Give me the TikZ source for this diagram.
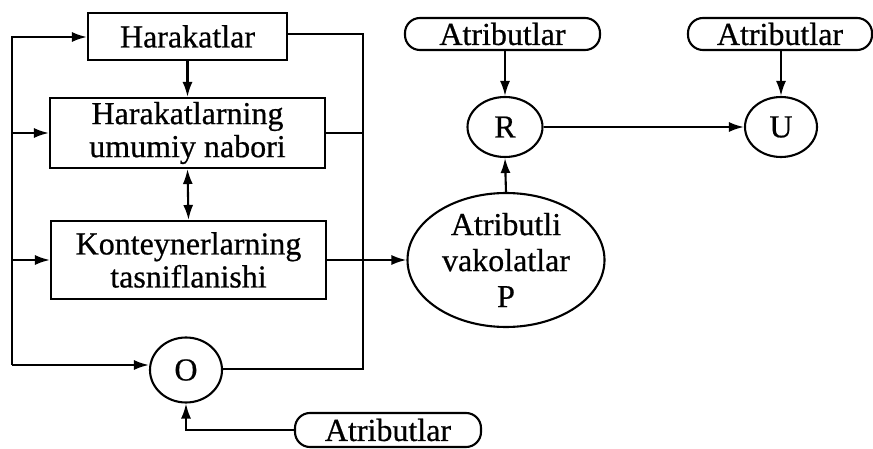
\documentclass[tikz,border=0pt]{standalone}
\usepackage{fontspec}
\setmainfont[FakeBold=0.6]{Liberation Serif}
\usetikzlibrary{shapes.geometric,arrows.meta}
\begin{document}
\begin{tikzpicture}[x=1pt,y=-1pt,
  line width=2.1pt,
  every node/.style={font=\fontsize{32}{33}\selectfont, inner sep=0pt, align=center},
  boxnode/.style={draw, rectangle},
  ovalnode/.style={draw, ellipse},
  pillnode/.style={draw, rectangle, rounded corners=15pt},
  arr/.style={-{Latex[length=15pt,width=10pt]}},
  darr/.style={{Latex[length=15pt,width=10pt]}-{Latex[length=15pt,width=10pt]}}
]
\useasboundingbox (0,0) rectangle (873,449);
% boxes
\node[boxnode, minimum width=199pt, minimum height=47pt] (harak) at (187.5,36.5) {Harakatlar};
\node[boxnode, minimum width=275pt, minimum height=70pt] (umum) at (187.5,133) {Harakatlarning\\umumiy nabori};
\node[boxnode, minimum width=275pt, minimum height=78pt] (kont) at (188.5,260) {Konteynerlarning\\tasniflanishi};
\node[ovalnode, minimum width=72pt, minimum height=65pt] (O) at (186,370) {O};
\node[pillnode, minimum width=186pt, minimum height=34pt] (atrB) at (388,430) {Atributlar};
\node[ovalnode, minimum width=75pt, minimum height=60pt] (R) at (505,127) {R};
\node[ovalnode, minimum width=72pt, minimum height=60pt] (U) at (781,127) {U};
\node[pillnode, minimum width=195pt, minimum height=32pt] (atrR) at (502.5,34) {Atributlar};
\node[pillnode, minimum width=184pt, minimum height=32pt] (atrU) at (780,34) {Atributlar};
\node[ovalnode, minimum width=197pt, minimum height=134pt, font=\fontsize{32}{36}\selectfont] (P) at (506,260) {Atributli\\vakolatlar\\P};
% coordinates for the side rails
\coordinate (lt) at (12,37);
\coordinate (lb) at (12,365);
\coordinate (rt) at (363,34);
\coordinate (rb) at (363,369);
% left rail feeding each block
\draw[arr] (lb) -- (lt) -- (harak.west |- lt);
\draw[arr] (12,133) -- (umum.west);
\draw[arr] (12,260) -- (kont.west);
\draw[arr] (lb) -- (O.west |- lb);
% right rail
\draw (harak.east |- rt) -- (rt) -- (rb) -- (O.east |- rb);
\draw (umum.east) -- (363,133);
% vertical links
\draw[arr] (harak.south) -- (umum.north);
\draw[darr] (umum.south) -- (kont.north);
% to P
\draw[arr] (kont.east) -- (P.west);
\draw[arr] (P.north) -- (R.south);
\draw[arr] (R.north |- atrR.south) -- (R.north);
\draw[arr] (U.north |- atrU.south) -- (U.north);
\draw[arr] (R.east) -- (U.west);
% bottom attribute to O
\draw[arr] (atrB.west) -- (O.south |- atrB.west) -- (O.south);
\end{tikzpicture}
\end{document}
